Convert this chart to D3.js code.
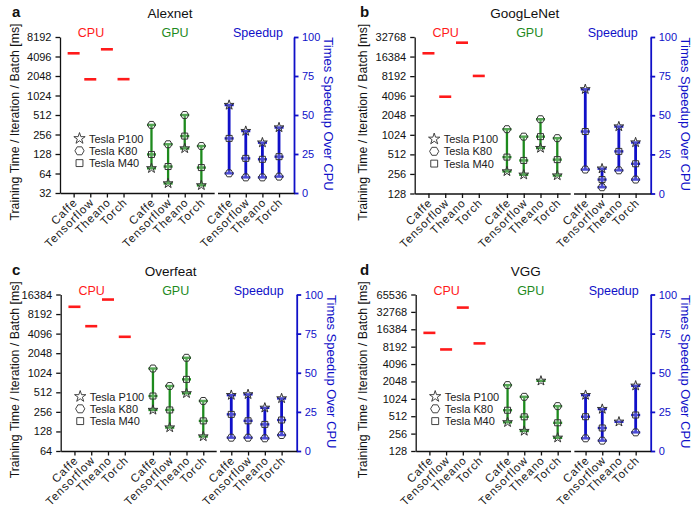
<!doctype html>
<html>
<head>
<meta charset="utf-8">
<script src="https://cdnjs.cloudflare.com/ajax/libs/d3/7.8.5/d3.min.js"></script>
<style>
  body { margin: 0; background: #fff; }
  svg { font-family: "Liberation Sans Narrow", "Liberation Sans", Arial, sans-serif; }
</style>
</head>
<body>
<svg id="chart" width="698" height="517"></svg>
<script>
// categories
var frameworks = ["Caffe", "Tensorflow", "Theano", "Torch"];
var gpuNames = ["Tesla P100", "Tesla K80", "Tesla M40"];
var speedTicks = [0, 25, 50, 75, 100];

// Alexnet (ms per batch, speedup x)
var alexnetTicks = [32, 64, 128, 256, 512, 1024, 2048, 4096, 8192];
var alexnetCpu = [4590, 1820, 5290, 1830];
var alexnetP100 = [77, 45, 156, 42];
var alexnetK80 = [360, 181, 512, 170];
var alexnetM40 = [126, 82, 242, 79];
var alexnetSpeedP100 = [56.4, 39.7, 32.3, 42];
var alexnetSpeedK80 = [12.6, 10, 10, 10.5];
var alexnetSpeedM40 = [35, 22.2, 21.6, 23.3];

// GoogLeNet
var googlenetTicks = [128, 256, 512, 1024, 2048, 4096, 8192, 16384, 32768];
var googlenetCpu = [18400, 3950, 26800, 8250];
var googlenetP100 = [280, 249, 640, 242];
var googlenetK80 = [1250, 960, 1780, 910];
var googlenetM40 = [465, 413, 960, 425];
var googlenetSpeedP100 = [66.6, 15.9, 42.8, 32.6];
var googlenetSpeedK80 = [15.3, 4, 14.8, 8.9];
var googlenetSpeedM40 = [39.6, 8.9, 26.9, 19];

// Overfeat
var overfeatTicks = [64, 128, 256, 512, 1024, 2048, 4096, 8192, 16384];
var overfeatCpu = [10600, 5330, 13700, 3660];
var overfeatP100 = [274, 147, 494, 107];
var overfeatK80 = [1190, 640, 1740, 377];
var overfeatM40 = [449, 274, 810, 186];
var overfeatSpeedP100 = [35.7, 36.2, 27.6, 33.6];
var overfeatSpeedK80 = [8.5, 8.5, 8.1, 10.2];
var overfeatSpeedM40 = [23.4, 19.3, 17, 19.8];

// VGG (Theano only ran on P100)
var vggTicks = [128, 256, 512, 1024, 2048, 4096, 8192, 16384, 32768, 65536];
var vggCpu = [14200, 7330, 38900, 9330];
var vggP100 = [402, 284, 2100, 217];
var vggK80 = [1770, 1110, null, 766];
var vggM40 = [650, 500, null, 394];
var vggSpeedP100 = [35.7, 26.8, 18.7, 41.7];
var vggSpeedK80 = [8.1, 6.6, null, 11.9];
var vggSpeedM40 = [21.9, 14.7, null, 23];

var red = "#ff1a1a", green = "#1d8a1d", blue = "#1010c8";

var panels = [
  {letter: "a", title: "Alexnet", ticks: alexnetTicks, cpu: alexnetCpu,
   gpu: [alexnetP100, alexnetK80, alexnetM40], speed: [alexnetSpeedP100, alexnetSpeedK80, alexnetSpeedM40],
   left: 60, right: 294, top: 37, bottom: 193, ox: 0},
  {letter: "b", title: "GoogLeNet", ticks: googlenetTicks, cpu: googlenetCpu,
   gpu: [googlenetP100, googlenetK80, googlenetM40], speed: [googlenetSpeedP100, googlenetSpeedK80, googlenetSpeedM40],
   left: 414.7, right: 650.7, top: 37, bottom: 193.5, ox: 348},
  {letter: "c", title: "Overfeat", ticks: overfeatTicks, cpu: overfeatCpu,
   gpu: [overfeatP100, overfeatK80, overfeatM40], speed: [overfeatSpeedP100, overfeatSpeedK80, overfeatSpeedM40],
   left: 60.7, right: 296.7, top: 294.5, bottom: 451, ox: 0},
  {letter: "d", title: "VGG", ticks: vggTicks, cpu: vggCpu,
   gpu: [vggP100, vggK80, vggM40], speed: [vggSpeedP100, vggSpeedK80, vggSpeedM40],
   left: 415.7, right: 650.7, top: 294.5, bottom: 451, ox: 348}
];

var svg = d3.select("#chart");

// marker shapes: star, hexagon, square
function hexPath(r) {
  var pts = d3.range(6).map(function(k) {
    var a = k * Math.PI / 3;
    return [r * Math.cos(a), r * Math.sin(a)];
  });
  return "M" + pts.join("L") + "Z";
}
var markerPaths = [
  d3.symbol().type(d3.symbolStar).size(30)(),
  hexPath(4),
  d3.symbol().type(d3.symbolSquare).size(36)()
];

var gpuOff = 4.68, spdOff = 9.35;

function drawRanges(g, x, yScale, series, off, color, lw) {
  frameworks.forEach(function(f, i) {
    var vals = series.map(function(s) { return s[i]; });
    var ok = vals.filter(function(v) { return v != null; });
    var cx = x(off + i);
    g.append("line")
      .attr("x1", cx).attr("x2", cx)
      .attr("y1", yScale(d3.min(ok))).attr("y2", yScale(d3.max(ok)))
      .attr("stroke", color).attr("stroke-width", lw);
    vals.forEach(function(v, k) {
      if (v == null) return;
      g.append("line")
        .attr("x1", cx - 4.5).attr("x2", cx + 4.5)
        .attr("y1", yScale(v)).attr("y2", yScale(v))
        .attr("stroke", color).attr("stroke-width", 2.4);
      g.append("path")
        .attr("d", markerPaths[k])
        .attr("transform", "translate(" + cx + "," + yScale(v) + ")")
        .attr("fill", "rgba(255,255,255,0.25)")
        .attr("stroke", "#333").attr("stroke-width", 1);
    });
  });
}

panels.forEach(function(p) {
  var g = svg.append("g");
  var x = d3.scaleLinear().domain([-0.82, 13.25]).range([p.left, p.right]);
  var y = d3.scaleLog().base(2).domain([p.ticks[0], p.ticks[p.ticks.length - 1]]).range([p.bottom, p.top]);
  var ys = d3.scaleLinear().domain([0, 100]).range([p.bottom, p.top]);

  // left axis
  var ya = g.append("g").attr("transform", "translate(" + p.left + ",0)")
    .call(d3.axisLeft(y).tickValues(p.ticks).tickFormat(d3.format("d")).tickSize(4.5).tickSizeOuter(0));
  ya.selectAll("text").attr("font-size", 11).attr("fill", "#111").attr("x", -8.5);
  ya.selectAll("path,line").attr("stroke", "#111").attr("stroke-width", 1.3);

  // right axis
  var yr = g.append("g").attr("transform", "translate(" + p.right + ",0)")
    .call(d3.axisRight(ys).tickValues(speedTicks).tickSize(4.5).tickSizeOuter(0));
  yr.selectAll("text").attr("font-size", 11).attr("fill", blue).attr("x", 8);
  yr.selectAll("path,line").attr("stroke", blue).attr("stroke-width", 1.8);

  // bottom axis, broken between GPU and Speedup
  var xl = x.copy().domain([-0.82, 8.45]).range([x(-0.82), x(8.45)]);
  var xr = x.copy().domain([8.65, 13.25]).range([x(8.65), x(13.25)]);
  var leftVals = [0, 1, 2, 3].concat([0, 1, 2, 3].map(function(i) { return gpuOff + i; }));
  var rightVals = [0, 1, 2, 3].map(function(i) { return spdOff + i; });
  [[xl, leftVals], [xr, rightVals]].forEach(function(pair) {
    var ax = g.append("g").attr("transform", "translate(0," + p.bottom + ")")
      .call(d3.axisBottom(pair[0]).tickValues(pair[1]).tickSize(4.5).tickSizeOuter(0)
        .tickFormat(function(d, i) { return frameworks[i % 4]; }));
    ax.selectAll("path,line").attr("stroke", "#111").attr("stroke-width", 1.3);
    ax.selectAll("text")
      .attr("font-size", 11.5).attr("fill", "#222")
      .attr("letter-spacing", "0.9px")
      .attr("y", 0).attr("dy", 0)
      .attr("text-anchor", "end")
      .attr("transform", "translate(4,10) rotate(-45)");
  });

  // CPU dashes
  g.selectAll(".cpu").data(p.cpu).enter().append("line")
    .attr("x1", function(d, i) { return x(i) - 6; })
    .attr("x2", function(d, i) { return x(i) + 6; })
    .attr("y1", function(d) { return y(d); })
    .attr("y2", function(d) { return y(d); })
    .attr("stroke", red).attr("stroke-width", 2.6);

  drawRanges(g, x, y, p.gpu, gpuOff, green, 2.3);
  drawRanges(g, x, ys, p.speed, spdOff, blue, 2.8);

  // group labels
  [["CPU", 31, red], ["GPU", 115, green], ["Speedup", 198, blue]].forEach(function(t) {
    g.append("text").attr("x", p.left + t[1]).attr("y", p.top)
      .attr("text-anchor", "middle").attr("font-size", 12.5).attr("fill", t[2]).text(t[0]);
  });

  // titles and panel letter
  g.append("text").attr("x", p.left + 110).attr("y", p.top - 19)
    .attr("text-anchor", "middle").attr("font-size", 13.5).attr("fill", "#111").text(p.title);
  g.append("text").attr("x", p.ox + 12).attr("y", p.top - 20)
    .attr("font-size", 15).attr("font-weight", "bold").attr("font-family", "Liberation Sans, Arial")
    .attr("fill", "#111").text(p.letter);

  // axis titles
  var cy = (p.top + p.bottom) / 2;
  g.append("text").attr("transform", "translate(" + (p.ox + 19) + "," + (cy + 7) + ") rotate(-90)")
    .attr("text-anchor", "middle").attr("font-size", 12.3).attr("fill", "#111")
    .text("Training Time / Iteration / Batch [ms]");
  g.append("text").attr("transform", "translate(" + (p.right + 30) + "," + (cy - 1) + ") rotate(90)")
    .attr("text-anchor", "middle").attr("font-size", 13).attr("fill", blue)
    .text("Times Speedup Over CPU");

  // legend
  var lg = g.append("g").attr("transform", "translate(" + (p.left + 19.5) + "," + (p.bottom - 54.5) + ")");
  gpuNames.forEach(function(n, k) {
    lg.append("path").attr("d", markerPaths[k])
      .attr("transform", "translate(0," + (k * 12.3) + ") scale(1.15)")
      .attr("fill", "none").attr("stroke", "#333").attr("stroke-width", 0.8);
    lg.append("text").attr("x", 9.5).attr("y", k * 12.3 + 4)
      .attr("font-size", 11).attr("fill", "#222").text(n);
  });
});
</script>
</body>
</html>
